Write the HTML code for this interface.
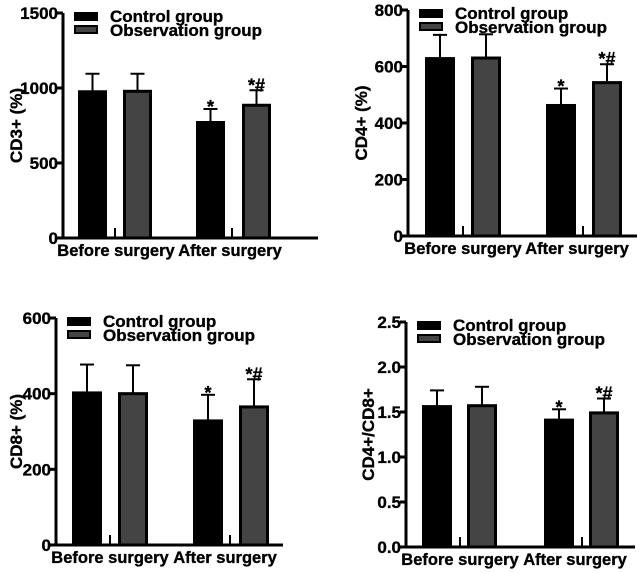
<!DOCTYPE html>
<html><head><meta charset="utf-8"><style>
html,body{margin:0;padding:0;background:#fff}
svg{display:block}
text{font-family:"Liberation Sans",Arial,sans-serif;font-weight:bold;fill:#000;stroke:#000;stroke-width:0.35px}
</style></head><body>
<svg id="fig" width="640" height="573" viewBox="0 0 640 573"></svg>
<script>
const groups = ["Before surgery","After surgery"];
const seriesNames = ["Control group","Observation group"];
const cd3Control=[975,770], cd3ControlErr=[1095,860];
const cd3Obs=[978,885], cd3ObsErr=[1095,985];
const cd3Ticks=["0","500","1000","1500"];
const cd4Control=[628,462], cd4ControlErr=[712,522];
const cd4Obs=[630,543], cd4ObsErr=[714,608];
const cd4Ticks=["0","200","400","600","800"];
const cd8Control=[402,328], cd8ControlErr=[477,397];
const cd8Obs=[400,365], cd8ObsErr=[475,438];
const cd8Ticks=["0","200","400","600"];
const ratioControl=[1.56,1.41], ratioControlErr=[1.74,1.53];
const ratioObs=[1.57,1.49], ratioObsErr=[1.78,1.65];
const ratioTicks=["0.0","0.5","1.0","1.5","2.0","2.5"];
const marks=[["","*"],["","*#"]];

const NS="http://www.w3.org/2000/svg";
const fig=document.getElementById('fig');
function mk(tag,attrs,parent,txt){const e=document.createElementNS(NS,tag);for(const k in attrs)e.setAttribute(k,attrs[k]);if(txt!==undefined)e.textContent=txt;parent.appendChild(e);return e;}

function panel(cfg){
  const g=mk('g',{},fig);
  
  
  const max=parseFloat(cfg.ticks[cfg.ticks.length-1]);
  const y=v=>cfg.y0-(v/max)*(cfg.y0-cfg.yTop);
  const ya=mk('line',{x1:cfg.ax,y1:cfg.yTop,x2:cfg.ax,y2:cfg.y0+1,stroke:'#000','stroke-width':3},g);
  
  const xa=mk('line',{x1:cfg.ax-1.5,y1:cfg.y0,x2:cfg.axEnd,y2:cfg.y0,stroke:'#000','stroke-width':3},g);
  
  cfg.ticks.forEach(t=>{
    const ty=y(parseFloat(t));
    mk('line',{x1:cfg.ax-6,y1:ty,x2:cfg.ax,y2:ty,stroke:'#000','stroke-width':3},g);
    const tl=mk('text',{x:cfg.ax-5,y:ty+6,'text-anchor':'end','font-size':17},g,t);
    
  });
  const yt=mk('text',{x:0,y:0,'text-anchor':'middle','font-size':17,transform:`translate(${cfg.titleX},${(cfg.y0+cfg.yTop)/2}) rotate(-90)`},g,cfg.title);
  
  const series=[[cfg.c,cfg.ce,'#444'==='x'?'':'#000'],[cfg.o,cfg.oe,'#444']];
  groups.forEach((gname,gi)=>{
    series.forEach((s,si)=>{
      const bx=cfg.barX[gi][si], bw=cfg.bw;
      const top=y(s[0][gi]), et=y(s[1][gi]);
      const el=mk('line',{x1:bx+bw/2,y1:top,x2:bx+bw/2,y2:et,stroke:'#000','stroke-width':2},g);
      
      mk('line',{x1:bx+bw/2-7,y1:et,x2:bx+bw/2+7,y2:et,stroke:'#000','stroke-width':2},g);
      const r=mk('rect',{x:bx+1.5,y:top,width:bw-3,height:cfg.y0-top,fill:s[2],stroke:'#000','stroke-width':3},g);
      
      
      const m=marks[si][gi];
      if(m){const mt=mk('text',{x:bx+bw/2,y:et+(m==='*'?4:1),'text-anchor':'middle','font-size':m==='*'?18:18},g,m);
        }
    });
    const tx=cfg.tickX[gi];
    mk('line',{x1:tx,y1:cfg.y0-10,x2:tx,y2:cfg.y0,stroke:'#000','stroke-width':2},g);
    const xl=mk('text',{x:cfg.labelX[gi],y:cfg.y0+18,'text-anchor':'middle','font-size':16.5},g,gname);
    
  });
  const lx=cfg.ax+11, ly=cfg.yTop;
  [['#000',0],['#444',1]].forEach(([f,i])=>{
    const lr=mk('rect',{x:lx+1,y:ly+i*13,width:22,height:7,fill:f,stroke:'#000','stroke-width':2},g);
    
    const lt=mk('text',{x:lx+36,y:ly+9+i*14,'font-size':17},g,seriesNames[i]);
    
  });
}
panel({name:'cd3-panel',ax:63,axEnd:318,y0:238,yTop:13,ticks:cd3Ticks,title:'CD3+ (%)',titleX:22,
  c:cd3Control,ce:cd3ControlErr,o:cd3Obs,oe:cd3ObsErr,bw:29,barX:[[78,123],[196,242]],tickX:[115,232],labelX:[116,230]});
panel({name:'cd4-panel',ax:408,axEnd:637,y0:236,yTop:10,ticks:cd4Ticks,title:'CD4+ (%)',titleX:367,
  c:cd4Control,ce:cd4ControlErr,o:cd4Obs,oe:cd4ObsErr,bw:30,barX:[[425,471],[546,592]],tickX:[463,583],labelX:[463,577]});
panel({name:'cd8-panel',ax:56,axEnd:283,y0:545,yTop:318,ticks:cd8Ticks,title:'CD8+ (%)',titleX:22,
  c:cd8Control,ce:cd8ControlErr,o:cd8Obs,oe:cd8ObsErr,bw:30,barX:[[72,118],[193,239]],tickX:[110,230],labelX:[110,225]});
panel({name:'cd4-cd8-ratio-panel',ax:406,axEnd:635,y0:547,yTop:322,ticks:ratioTicks,title:'CD4+/CD8+',titleX:374,
  c:ratioControl,ce:ratioControlErr,o:ratioObs,oe:ratioObsErr,bw:30,barX:[[422,467],[544,589]],tickX:[460,582],labelX:[460,575]});
</script>
</body></html>
